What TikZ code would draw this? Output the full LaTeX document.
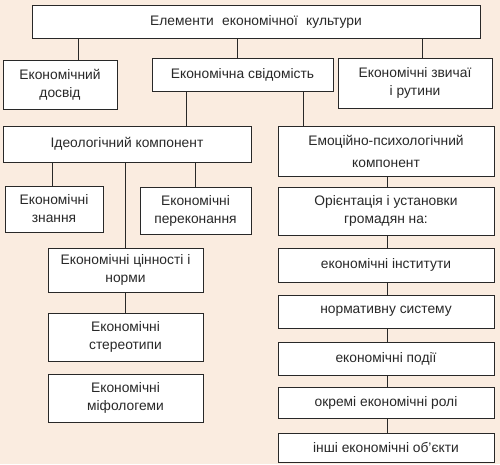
\documentclass[tikz,border=0pt]{standalone}
\usepackage{fontspec}
\setmainfont{Liberation Sans}
\definecolor{paper}{RGB}{250,236,224}
\definecolor{ink}{RGB}{40,40,40}

\begin{document}
\begin{tikzpicture}[x=1pt,y=-1pt]
    % Tree of the elements of economic culture, drawn in pixel units.

    \tikzset{
      box/.style={draw=ink, line width=0.9pt, fill=white, text=ink, align=center,
                  inner sep=2pt, font=\fontsize{13.8}{18}\selectfont},
      link/.style={draw=ink, line width=0.9pt}
    }

    \fill[paper] (0,0) rectangle (500,464);

    % --- Top level
    \node[box, minimum width=448pt, minimum height=33pt] (top) at (256,21.5)
      {Елементи\hspace{0.6em}економічної\hspace{0.6em}культури};

    % --- Second row
    \node[box, minimum width=114pt, minimum height=49pt] (dosvid) at (60,84.5)
      {Економічний\\досвід};
    \node[box, minimum width=181pt, minimum height=33pt] (svid) at (242.5,74.5)
      {Економічна свідомість};
    \node[box, minimum width=154pt, minimum height=50pt] (zvych) at (415,83)
      {Економічні звичаї\\і рутини};

    % --- Left branch: ideological component
    \node[box, minimum width=248pt, minimum height=36pt] (ideol) at (127,144)
      {Ідеологічний компонент};
    \node[box, minimum width=98pt, minimum height=46pt] (znann) at (54,209)
      {Економічні\\знання};
    \node[box, minimum width=111pt, minimum height=47pt] (perek) at (195.5,210.5)
      {Економічні\\переконання};
    \node[box, minimum width=155pt, minimum height=44pt] (tsinn) at (125.5,270)
      {Економічні цінності і\\норми};
    \node[box, minimum width=155pt, minimum height=48pt] (stereo) at (125.5,337)
      {Економічні\\стереотипи};
    \node[box, minimum width=155pt, minimum height=48pt] (mif) at (125.5,398)
      {Економічні\\міфологеми};

    % --- Right branch: emotional-psychological component
    \node[box, minimum width=216pt, minimum height=50pt] (emots) at (386,151)
      {Емоційно-психологічний\\[4pt]компонент};
    \node[box, minimum width=216pt, minimum height=48pt] (orient) at (386,211)
      {Орієнтація і установки\\громадян на:};
    \node[box, minimum width=216pt, minimum height=34pt] (inst) at (386,265)
      {економічні інститути};
    \node[box, minimum width=216pt, minimum height=33pt] (norm) at (386,311.5)
      {нормативну систему};
    \node[box, minimum width=216pt, minimum height=33pt] (podii) at (386,358.5)
      {економічні події};
    \node[box, minimum width=216pt, minimum height=31pt] (roli) at (386,402.5)
      {окремі економічні ролі};
    \node[box, minimum width=216pt, minimum height=29pt] (inshi) at (386,447.5)
      {інші економічні об'єкти};

    % --- Connectors
    \draw[link] (top.south -| 78,0) -- (dosvid.north -| 78,0);
    \draw[link] (top.south -| 237,0) -- (svid.north -| 237,0);
    \draw[link] (top.south -| 422,0) -- (zvych.north -| 422,0);
    \draw[link] (svid.south -| 186,0) -- (ideol.north -| 186,0);
    \draw[link] (svid.south -| 303,0) -- (emots.north -| 303,0);
    \draw[link] (ideol.south -| 52,0) -- (znann.north -| 52,0);
    \draw[link] (ideol.south -| 195,0) -- (perek.north -| 195,0);
    \draw[link] (ideol.south -| 125,0) -- (tsinn.north -| 125,0);
    \draw[link] (tsinn.south -| 125,0) -- (stereo.north -| 125,0);
    \draw[link] (emots.south -| 387,0) -- (orient.north -| 387,0);
    \draw[link] (orient.south -| 387,0) -- (inst.north -| 387,0);
    \draw[link] (inst.south -| 387,0) -- (norm.north -| 387,0);
    \draw[link] (norm.south -| 387,0) -- (podii.north -| 387,0);
    \draw[link] (podii.south -| 387,0) -- (roli.north -| 387,0);
    \draw[link] (roli.south -| 387,0) -- (inshi.north -| 387,0);
  \end{tikzpicture}
\end{document}
